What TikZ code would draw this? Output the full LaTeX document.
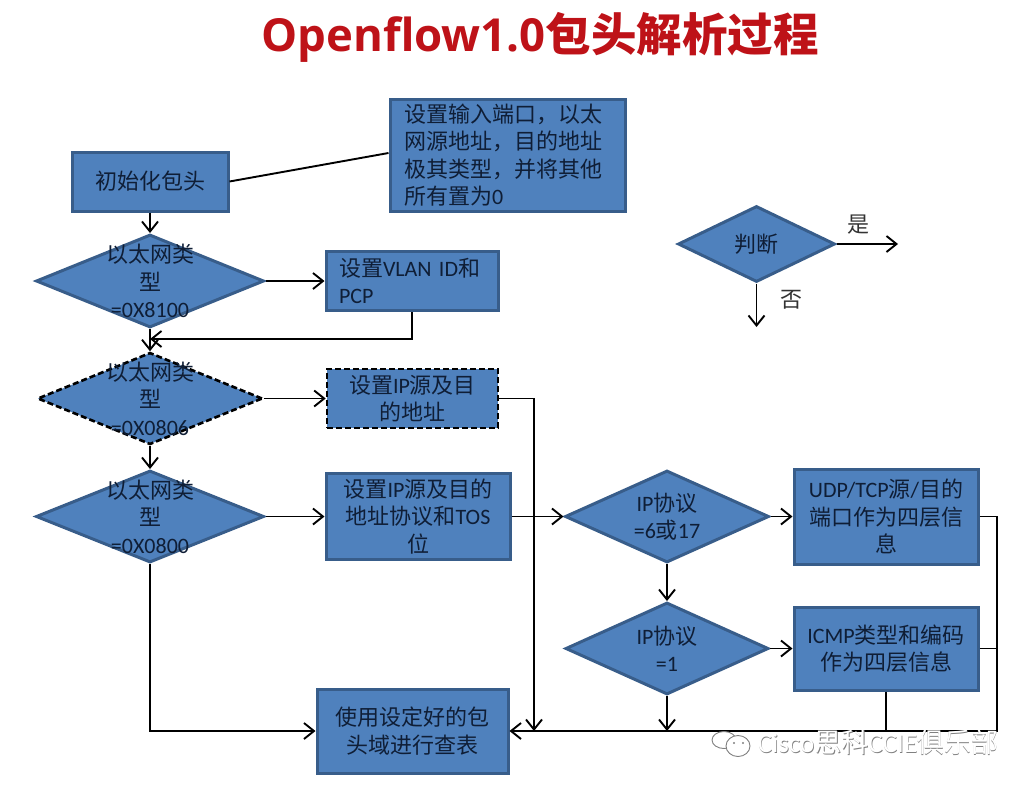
\documentclass[tikz,border=0pt]{standalone}
\usepackage{fontspec}
\setmainfont{Carlito}
\newfontfamily\cjk{Noto Sans CJK SC}
\newfontfamily\titlelat{Open Sans}
\newcommand{\C}[1]{{\cjk #1}}
\usetikzlibrary{shapes.geometric,arrows.meta}
\definecolor{boxfill}{HTML}{4F81BD}
\definecolor{boxedge}{HTML}{385D8A}
\definecolor{inktext}{HTML}{0F1E36}
\definecolor{titlered}{HTML}{BE1218}
\tikzset{
  x=1pt,y=-1pt,
  >={Straight Barb[length=10pt,width=16pt,line width=1.9pt]},
  basefont/.style={font=\fontsize{22}{27.5}\selectfont,text=inktext},
  rectbox/.style={rectangle,draw=boxedge,line width=3pt,fill=boxfill,inner sep=0pt,align=center,basefont},
  dia/.style={diamond,draw=boxedge,line width=3pt,fill=boxfill,inner sep=0pt,aspect=2.2},
  dashbox/.style={draw=black,line width=2.6pt,dashed,dash pattern=on 6pt off 3pt},
  dialabel/.style={label={[basefont,align=center,inner sep=0pt]center:#1}},
  conn/.style={draw=black,line width=1.9pt},
  flow/.style={conn,->},
}
\begin{document}
\begin{tikzpicture}
\useasboundingbox (0,0) rectangle (1032,788);
\fill[white] (0,0) rectangle (1032,788);

\node[text=titlered,font=\fontsize{45.5}{50}\selectfont\bfseries] (title) at (540,37)
  {\titlelat Openflow1.0{\cjk\bfseries 包头解析过程}};

\node[rectbox,minimum width=156pt,minimum height=59pt] (init) at (150,181.5) {\C{初始化包头}};
\node[rectbox,minimum width=235pt,minimum height=112pt,text width=207pt,align=left] (setbox) at (507.5,155)
  {\C{设置输入端口，以太}\\\C{网源地址，目的地址}\\\C{极其类型，并将其他}\\\C{所有置为}0};

\node[dia,minimum width=228pt,minimum height=93pt,dialabel={\C{以太网类}\\\C{型}\\=0X8100}] (d1) at (150,281) {};
\node[rectbox,minimum width=172pt,minimum height=59pt,text width=146pt,align=left] (vlan) at (412,281)
  {\C{设置}VLAN ID\C{和}\\PCP};

\node[dia,dashbox,minimum width=225pt,minimum height=92pt,dialabel={\C{以太网类}\\\C{型}\\=0X0806}] (d2) at (150,398.5) {};
\node[rectbox,dashbox,minimum width=171pt,minimum height=59pt] (r2) at (412.5,398.5)
  {\C{设置}IP\C{源及目}\\\C{的地址}};

\node[dia,minimum width=228pt,minimum height=92pt,dialabel={\C{以太网类}\\\C{型}\\=0X0800}] (d3) at (150,516.5) {};
\node[rectbox,minimum width=184pt,minimum height=86pt] (r3) at (418,516.5)
  {\C{设置}IP\C{源及目的}\\\C{地址协议和}TOS\\\C{位}};

\node[dia,minimum width=204pt,minimum height=92pt,dialabel={IP\C{协议}\\=6\C{或}17}] (d4) at (667,516.5) {};
\node[rectbox,minimum width=184pt,minimum height=95pt] (udp) at (886,516.5)
  {UDP/TCP\C{源}/\C{目的}\\\C{端口作为四层信}\\\C{息}};

\node[dia,minimum width=203pt,minimum height=92pt,dialabel={IP\C{协议}\\=1}] (d5) at (667,648.5) {};
\node[rectbox,minimum width=184pt,minimum height=83pt] (icmp) at (886,648.5)
  {ICMP\C{类型和编码}\\\C{作为四层信息}};

\node[rectbox,minimum width=191pt,minimum height=84pt] (bot) at (412.5,731)
  {\C{使用设定好的包}\\\C{头域进行查表}};

\node[dia,minimum width=157pt,minimum height=76pt,dialabel={\C{判断}}] (legend) at (756.5,244) {};
\node[basefont,text=black!80] (yes) at (858,225) {\C{是}};
\node[basefont,text=black!80] (no) at (791,300) {\C{否}};
\coordinate (yesend) at (898,244);
\coordinate (noend) at (756.5,327);

\coordinate (vlanjoin) at (150,339);
\coordinate (trunk) at (997,731);
\coordinate (dashdrop) at (534,731);
\coordinate (d5drop) at (667,731);

\draw[conn] (init.east) -- (setbox.west |- 0,153);
\draw[flow] (init.south) -- (d1.north);
\draw[flow] (d1.east) -- (vlan.west);
\draw[flow] (vlan.south) |- (vlanjoin);
\draw[flow] (d1.south) -- (d2.north);
\draw[flow] (d2.east) -- (r2.west);
\draw[flow] (d2.south) -- (d3.north);
\draw[flow] (d3.east) -- (r3.west);
\draw[flow] (r3.east) -- (d4.west);
\draw[flow] (d4.east) -- (udp.west);
\draw[flow] (d4.south) -- (d5.north);
\draw[flow] (d5.east) -- (icmp.west);
\draw[flow] (d3.south) |- (bot.west);
\draw[flow] (r2.east) -| (dashdrop);
\draw[flow] (d5.south) -- (d5drop);
\draw[conn] (icmp.east) -- (icmp.east -| trunk);
\draw[conn] (icmp.south) -- (icmp.south |- trunk);
\draw[flow] (udp.east) -| (trunk) -- (bot.east);
\draw[flow] (legend.east) -- (yesend);
\draw[flow] (legend.south) -- (noend);

% watermark
\begin{scope}[draw=black!50,fill=white,line width=0.9pt]
  \filldraw (724,740) ellipse (12pt and 8.5pt);
  \filldraw (738,746) ellipse (12pt and 10.5pt);
  \fill[black!50] (734,743) circle (1.2pt) (743,743) circle (1.2pt);
\end{scope}
\node[font=\fontsize{27}{28}\selectfont,text=black!50] (wmshadow) at (878.6,743) {Cisco\C{思科}CCIE\C{俱乐部}};
\node[font=\fontsize{27}{28}\selectfont,text=white] (wm) at (878,742) {Cisco\C{思科}CCIE\C{俱乐部}};
\end{tikzpicture}
\end{document}
